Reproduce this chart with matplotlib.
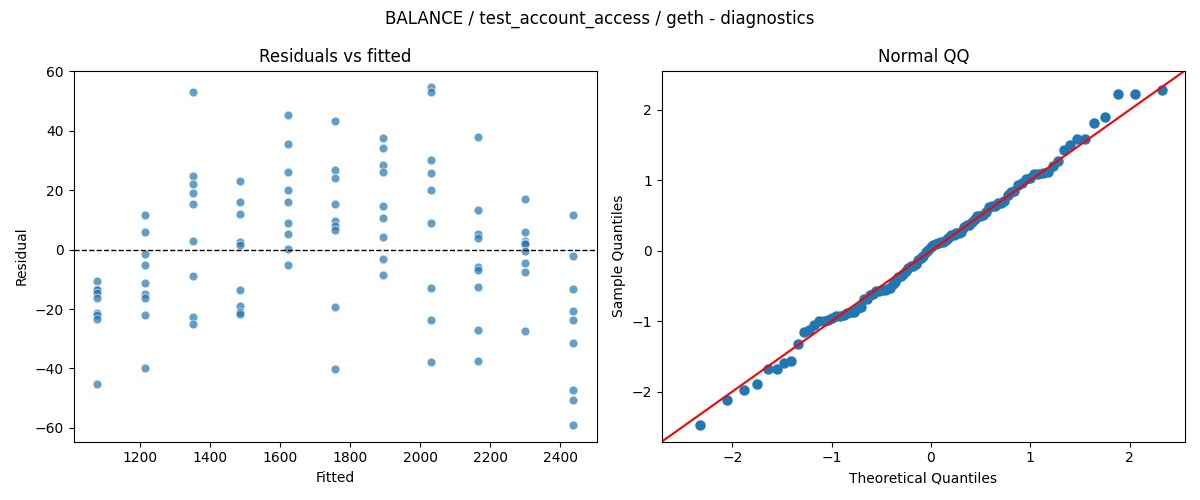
import numpy as np
import matplotlib
matplotlib.use("Agg")
import matplotlib.pyplot as plt
from statistics import NormalDist

# fitted value per group (x positions of the columns)
fitted_levels = [1077, 1213, 1349, 1485, 1621, 1757, 1893, 2029, 2165, 2300, 2436]

# residuals, one list per fitted value
residual_groups = [
    [-10.6, -13.4, -13.6, -14.5, -16.4, -21.2, -22.0, -23.3, -45.2],
    [11.8, 6.1, -1.6, -5.2, -11.2, -14.9, -16.2, -22.1, -39.9],
    [53.1, 24.7, 22.2, 18.9, 15.3, 2.9, -9.0, -22.7, -25.1],
    [23.0, 16.2, 12.1, 2.6, 1.4, -13.7, -19.0, -20.9, -21.6],
    [45.4, 35.7, 26.3, 20.2, 16.2, 8.9, 5.2, 0.3, -5.2],
    [43.4, 26.7, 24.2, 15.3, 9.6, 8.0, 6.5, -19.3, -40.2],
    [37.7, 34.3, 28.6, 26.0, 14.8, 10.8, 4.4, -3.0, -8.7],
    [54.6, 53.1, 30.3, 25.9, 20.0, 8.9, -13.0, -23.7, -37.9],
    [38.0, 13.2, 5.3, 3.8, -5.9, -7.0, -12.7, -27.0, -37.5],
    [16.9, 6.1, 3.0, 2.2, 1.9, -0.4, -4.6, -7.7, -27.4],
    [11.8, -2.3, -13.4, -20.7, -23.8, -31.5, -47.2, -50.6, -59.0],
]

title = "BALANCE / test_account_access / geth - diagnostics"

fitted = np.concatenate([[f] * len(g) for f, g in zip(fitted_levels, residual_groups)])
resid = np.concatenate([np.array(g, dtype=float) for g in residual_groups])

# normal QQ, same as statsmodels qqplot(fit=True, line='45')
n = len(resid)
nd = NormalDist()
theo = np.array([nd.inv_cdf(i / (n + 1)) for i in range(1, n + 1)])
sample = (np.sort(resid) - resid.mean()) / resid.std()

fig, (ax1, ax2) = plt.subplots(1, 2, figsize=(12, 5), dpi=100)

ax1.scatter(fitted, resid, s=40, color="C0", alpha=0.7, edgecolors="white", linewidths=0.6)
ax1.axhline(0, color="black", linestyle="--", linewidth=1)
ax1.set_xlabel("Fitted")
ax1.set_ylabel("Residual")
ax1.set_title("Residuals vs fitted")

ax2.plot(theo, sample, "o", color="C0", markersize=6.5)
ax2.set_xlabel("Theoretical Quantiles")
ax2.set_ylabel("Sample Quantiles")
xl = ax2.get_xlim()
yl = ax2.get_ylim()
ends = [min(xl[0], yl[0]), max(xl[1], yl[1])]
ax2.plot(ends, ends, color="red")
ax2.set_xlim(ends)
ax2.set_ylim(ends)
ax2.set_title("Normal QQ")

fig.suptitle(title)
fig.tight_layout()
fig.savefig("out.png")
